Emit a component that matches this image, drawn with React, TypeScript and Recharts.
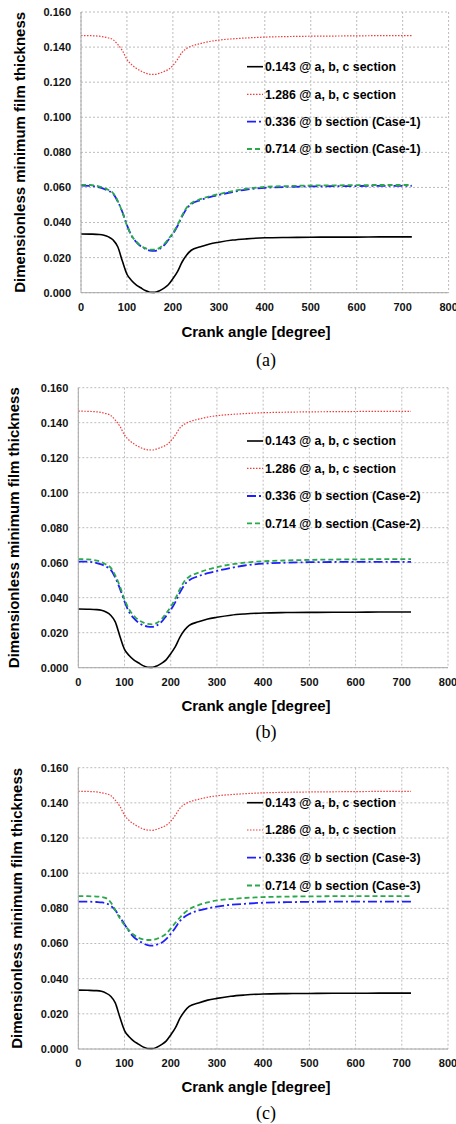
import React from 'react';
import { LineChart, Line, XAxis, YAxis, CartesianGrid, Legend } from 'recharts';

const ANGLE = [0, 20, 40, 50, 60, 70, 80, 90, 100, 110, 120, 130, 140, 150, 160, 170, 180, 190, 200, 210, 220, 230, 240, 260, 280, 300, 330, 360, 400, 450, 500, 550, 600, 650, 720];

const H143 = [0.0335, 0.0334, 0.0332, 0.0328, 0.0318, 0.0300, 0.0262, 0.0180, 0.0105, 0.0070, 0.0045, 0.0028, 0.0012, 0.0003, 0.0002, 0.0010, 0.0025, 0.0045, 0.0080, 0.0120, 0.0175, 0.0215, 0.0242, 0.0262, 0.0278, 0.0288, 0.0300, 0.0307, 0.0313, 0.0315, 0.0316, 0.0317, 0.0317, 0.0318, 0.0318];

const H1286 = [0.1466, 0.1465, 0.1462, 0.1458, 0.1452, 0.1442, 0.1415, 0.1380, 0.1330, 0.1300, 0.1280, 0.1264, 0.1252, 0.1245, 0.1244, 0.1250, 0.1260, 0.1272, 0.1295, 0.1330, 0.1370, 0.1392, 0.1405, 0.1420, 0.1432, 0.1440, 0.1447, 0.1452, 0.1457, 0.1460, 0.1462, 0.1463, 0.1464, 0.1465, 0.1465];

const H336_CASE1 = [0.0610, 0.0609, 0.0600, 0.0592, 0.0580, 0.0564, 0.0520, 0.0460, 0.0385, 0.0325, 0.0290, 0.0265, 0.0250, 0.0240, 0.0238, 0.0248, 0.0268, 0.0300, 0.0335, 0.0380, 0.0435, 0.0480, 0.0505, 0.0528, 0.0545, 0.0557, 0.0574, 0.0588, 0.0598, 0.0603, 0.0606, 0.0607, 0.0608, 0.0609, 0.0609];
const H714_CASE1 = [0.0615, 0.0614, 0.0605, 0.0597, 0.0585, 0.0567, 0.0522, 0.0460, 0.0383, 0.0325, 0.0292, 0.0268, 0.0254, 0.0246, 0.0245, 0.0254, 0.0274, 0.0305, 0.0340, 0.0385, 0.0440, 0.0485, 0.0510, 0.0533, 0.0550, 0.0562, 0.0579, 0.0593, 0.0603, 0.0608, 0.0611, 0.0612, 0.0613, 0.0614, 0.0614];

const H336_CASE2 = [0.0606, 0.0606, 0.0598, 0.0590, 0.0578, 0.0560, 0.0515, 0.0452, 0.0378, 0.0318, 0.0283, 0.0258, 0.0243, 0.0235, 0.0233, 0.0242, 0.0262, 0.0295, 0.0330, 0.0375, 0.0430, 0.0475, 0.0500, 0.0523, 0.0540, 0.0553, 0.0570, 0.0584, 0.0595, 0.0600, 0.0603, 0.0604, 0.0605, 0.0605, 0.0605];
const H714_CASE2 = [0.0620, 0.0619, 0.0612, 0.0604, 0.0590, 0.0572, 0.0527, 0.0465, 0.0390, 0.0333, 0.0298, 0.0273, 0.0259, 0.0250, 0.0248, 0.0256, 0.0277, 0.0310, 0.0348, 0.0395, 0.0450, 0.0495, 0.0520, 0.0543, 0.0561, 0.0575, 0.0590, 0.0600, 0.0608, 0.0613, 0.0616, 0.0618, 0.0619, 0.0620, 0.0620];

const H336_CASE3 = [0.0838, 0.0838, 0.0836, 0.0834, 0.0829, 0.0815, 0.0790, 0.0750, 0.0710, 0.0668, 0.0637, 0.0617, 0.0602, 0.0591, 0.0588, 0.0594, 0.0604, 0.0625, 0.0655, 0.0690, 0.0728, 0.0752, 0.0768, 0.0788, 0.0800, 0.0810, 0.0820, 0.0826, 0.0832, 0.0835, 0.0837, 0.0838, 0.0838, 0.0838, 0.0838];
const H714_CASE3 = [0.0870, 0.0869, 0.0867, 0.0865, 0.0858, 0.0835, 0.0790, 0.0743, 0.0705, 0.0675, 0.0650, 0.0633, 0.0624, 0.0620, 0.0620, 0.0627, 0.0638, 0.0655, 0.0685, 0.0718, 0.0748, 0.0775, 0.0795, 0.0818, 0.0834, 0.0845, 0.0853, 0.0859, 0.0864, 0.0867, 0.0868, 0.0869, 0.0869, 0.0870, 0.0870];

const X_TICKS = [0, 100, 200, 300, 400, 500, 600, 700, 800];
const Y_TICKS = [0, 0.02, 0.04, 0.06, 0.08, 0.1, 0.12, 0.14, 0.16];

const X_TITLE = 'Crank angle [degree]';
const Y_TITLE = 'Dimensionless minimum film thickness';

const FONT = '"Liberation Sans", Arial, sans-serif';

const SERIES = [
  { key: 's143', color: '#000000', width: 1.6, dash: undefined as string | undefined },
  { key: 's1286', color: '#f03c3c', width: 1.2, dash: '1.5 1.5' },
  { key: 's336', color: '#1e1eff', width: 1.8, dash: '9 3 2 3' },
  { key: 's714', color: '#2aa84a', width: 1.8, dash: '5 3' },
];

type PanelCfg = {
  top: number;
  height: number;
  plotTop: number;
  plotBottom: number;
  plotLeft: number;
  plotRight: number;
  xTitleY: number;
  captionY: number;
  caption: string;
  yTitleX: number;
  legendRows: number[];
  caseName: string;
  blue: number[];
  green: number[];
};

const PANELS: PanelCfg[] = [
  { top: 0, height: 375, plotTop: 12, plotBottom: 292.7, plotLeft: 81, plotRight: 448.6, xTitleY: 331.7, captionY: 360, caption: '(a)', yTitleX: 20, legendRows: [66.7, 94.3, 121.7, 149], caseName: 'Case-1', blue: H336_CASE1, green: H714_CASE1 },
  { top: 375, height: 375, plotTop: 387.7, plotBottom: 667.7, plotLeft: 78.3, plotRight: 448, xTitleY: 705.7, captionY: 732, caption: '(b)', yTitleX: 14, legendRows: [441, 468.3, 496, 523.3], caseName: 'Case-2', blue: H336_CASE2, green: H714_CASE2 },
  { top: 750, height: 374, plotTop: 767.7, plotBottom: 1049, plotLeft: 78.3, plotRight: 448, xTitleY: 1086.7, captionY: 1113, caption: '(c)', yTitleX: 17, legendRows: [802.7, 830, 857.7, 885.5], caseName: 'Case-3', blue: H336_CASE3, green: H714_CASE3 },
];

function Panel({ cfg }: { cfg: PanelCfg }) {
  const data = ANGLE.map((a, i) => ({ angle: a, s143: H143[i], s1286: H1286[i], s336: cfg.blue[i], s714: cfg.green[i] }));
  const names = ['0.143 @ a, b, c section', '1.286 @ a, b, c section', `0.336 @ b section (${cfg.caseName})`, `0.714 @ b section (${cfg.caseName})`];
  const X_AXIS_H = 30;
  const margin = {
    top: cfg.plotTop - cfg.top,
    left: 0,
    right: 456 - cfg.plotRight,
    bottom: cfg.top + cfg.height - cfg.plotBottom - X_AXIS_H,
  };
  const midY = (cfg.plotTop + cfg.plotBottom) / 2 - cfg.top;
  const renderLegend = () => (
    <svg width={456} height={cfg.height} style={{ position: 'absolute', left: 0, top: 0, overflow: 'visible' }}>
      {SERIES.map((s, i) => {
        const y = cfg.legendRows[i] - cfg.top;
        return (
          <g key={s.key}>
            <line x1={247} x2={263} y1={y} y2={y} stroke={s.color} strokeWidth={s.width} strokeDasharray={s.dash} />
            <text x={265} y={y} dy="0.36em" fontFamily={FONT} fontWeight="bold" fontSize={12.3} fill="#000">{names[i]}</text>
          </g>
        );
      })}
    </svg>
  );
  return (
    <div style={{ position: 'absolute', left: 0, top: cfg.top, width: 456, height: cfg.height }}>
      <LineChart width={456} height={cfg.height} data={data} margin={margin}>
        <CartesianGrid stroke="#bcbcbc" strokeDasharray="2 2" strokeWidth={1} />
        <XAxis
          dataKey="angle"
          type="number"
          domain={[0, 800]}
          ticks={X_TICKS}
          interval={0}
          height={X_AXIS_H}
          tickLine={false}
          tickSize={0}
          tickMargin={10}
          axisLine={{ stroke: '#a8a8a8' }}
          tick={{ fontFamily: FONT, fontWeight: 'bold', fontSize: 11, fill: '#111' }}
          label={() => (
            <text x={256} y={cfg.xTitleY - cfg.top} dy="0.36em" textAnchor="middle" fontFamily={FONT} fontWeight="bold" fontSize={15} fill="#000">{X_TITLE}</text>
          )}
        />
        <YAxis
          type="number"
          domain={[0, 0.16]}
          ticks={Y_TICKS}
          interval={0}
          width={cfg.plotLeft}
          tickLine={false}
          tickSize={0}
          tickMargin={10}
          axisLine={{ stroke: '#a8a8a8' }}
          tickFormatter={(v: number) => v.toFixed(3)}
          tick={{ fontFamily: FONT, fontWeight: 'bold', fontSize: 11, fill: '#111' }}
          label={() => (
            <text x={cfg.yTitleX} y={midY} dy="0.36em" textAnchor="middle" transform={`rotate(-90 ${cfg.yTitleX} ${midY})`} fontFamily={FONT} fontWeight="bold" fontSize={15} fill="#000">{Y_TITLE}</text>
          )}
        />
        {SERIES.map((s) => (
          <Line
            key={s.key}
            type="monotone"
            dataKey={s.key}
            stroke={s.color}
            strokeWidth={s.width}
            strokeDasharray={s.dash}
            dot={false}
            activeDot={false}
            isAnimationActive={false}
          />
        ))}
        <Legend layout="vertical" align="center" verticalAlign="middle" content={renderLegend} wrapperStyle={{ left: 0, top: 0, width: 456, height: cfg.height, pointerEvents: 'none' }} />
      </LineChart>
      <div style={{ position: 'absolute', left: 0, width: 532, top: cfg.captionY - cfg.top - 11, textAlign: 'center', fontFamily: '"Liberation Serif", "Times New Roman", serif', fontSize: 18, lineHeight: '22px', color: '#000' }}>{cfg.caption}</div>
    </div>
  );
}

export default function App() {
  return (
    <div style={{ position: 'absolute', left: 0, top: 0, width: 456, height: 1124, background: '#fff', overflow: 'hidden' }}>
      {PANELS.map((p) => (
        <Panel key={p.caption} cfg={p} />
      ))}
    </div>
  );
}
